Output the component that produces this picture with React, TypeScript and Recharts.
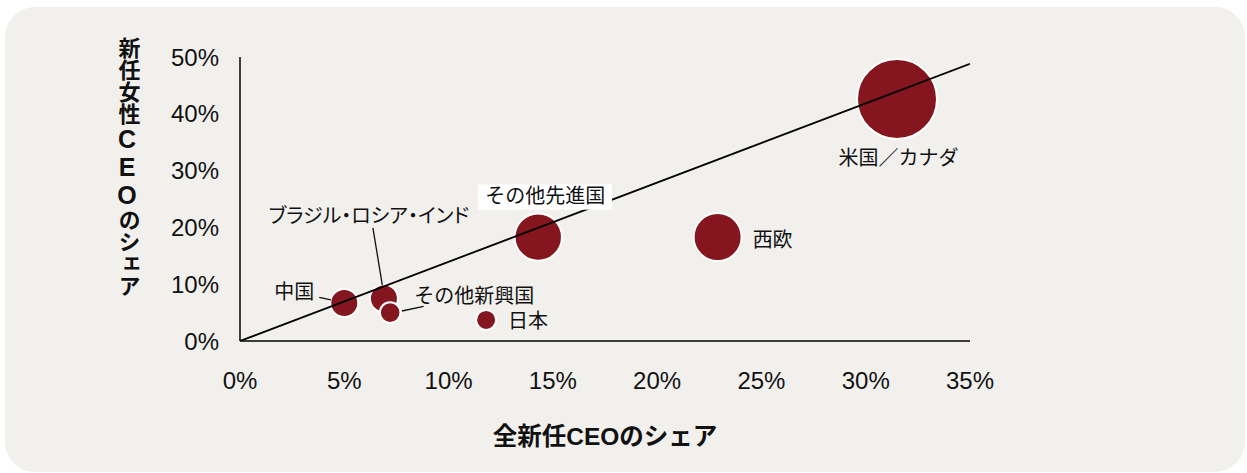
import React from 'react';
import { ScatterChart, Scatter, XAxis, YAxis, ZAxis } from 'recharts';

// ---- data ----
const regions = ['米国／カナダ', '西欧', 'その他先進国', 'ブラジル・ロシア・インド', '中国', 'その他新興国', '日本'];
const allNewCeoShare = [31.5, 22.9, 14.3, 6.9, 5.0, 7.2, 11.8];
const femaleNewCeoShare = [42.6, 18.3, 18.3, 7.5, 6.7, 5.0, 3.7];
const bubbleSize = [1600, 576, 560, 196, 196, 106, 100];
const xTicks = [0, 5, 10, 15, 20, 25, 30, 35];
const yTicks = [0, 10, 20, 30, 40, 50];
const parityLineX = [0, 35];
const parityLineY = [0, 48.8];

const bubbles = regions.map((name, i) => ({
  name,
  x: allNewCeoShare[i],
  y: femaleNewCeoShare[i],
  z: bubbleSize[i],
}));
const parityLine = parityLineX.map((x, i) => ({ x, y: parityLineY[i] }));

// ---- styles ----
const BUBBLE = '#85161f';
const INK = '#111111';
const JP = '"Noto Sans CJK JP", "Noto Sans", sans-serif';
const LAT = '"Liberation Sans", Arial, "Noto Sans CJK JP", sans-serif';

type LabelCfg = {
  dx: number;
  dy: number;
  anchor: 'start' | 'middle' | 'end';
  leader?: [number, number, number, number];
  box?: [number, number, number, number];
  palt?: boolean;
};

const labelLayout: Record<string, LabelCfg> = {
  '米国／カナダ': { dx: 1.5, dy: 59, anchor: 'middle' },
  '西欧': { dx: 35, dy: 2.5, anchor: 'start' },
  'その他先進国': { dx: 7, dy: -41, anchor: 'middle', box: [-60.3, -52.7, 134, 25.3] },
  'ブラジル・ロシア・インド': { dx: -15, dy: -83, anchor: 'middle', leader: [-11, -70.6, -1.6, -13.3], palt: true },
  '中国': { dx: -30, dy: -11.6, anchor: 'end', leader: [-25, -5.6, -13.3, -3] },
  'その他新興国': { dx: 24, dy: -17, anchor: 'start', leader: [11.7, -1.6, 33.4, -6.3] },
  '日本': { dx: 22, dy: 1, anchor: 'start' },
};

const BubbleShape = (p: any) => {
  const r = p.size ? Math.sqrt(p.size / Math.PI) : (p.width || 0) / 2;
  return <circle cx={p.cx} cy={p.cy} r={r} fill={BUBBLE} stroke="#ffffff" strokeWidth={2} />;
};

const EmptyShape = () => <g />;

const LabelShape = (p: any) => {
  const name = p.payload?.name ?? p.name;
  const cfg = labelLayout[name];
  if (!cfg) return <g />;
  const { cx, cy } = p;
  return (
    <g>
      {cfg.box && (
        <rect x={cx + cfg.box[0]} y={cy + cfg.box[1]} width={cfg.box[2]} height={cfg.box[3]} fill="#ffffff" />
      )}
      {cfg.leader && (
        <line
          x1={cx + cfg.leader[0]}
          y1={cy + cfg.leader[1]}
          x2={cx + cfg.leader[2]}
          y2={cy + cfg.leader[3]}
          stroke={INK}
          strokeWidth={1.3}
        />
      )}
      <text
        x={cx + cfg.dx}
        y={cy + cfg.dy}
        dy="0.36em"
        textAnchor={cfg.anchor}
        fontFamily={JP}
        fontSize={20}
        fill={INK}
        style={cfg.palt ? { fontFeatureSettings: '"palt"' } : undefined}
      >
        {name}
      </text>
    </g>
  );
};

const YTitle = (props: any) => {
  const vb = props.viewBox || { x: 0, y: 0, width: 0, height: 0 };
  return (
    <text
      x={vb.x + vb.width - 113}
      y={vb.y + 110}
      textAnchor="middle"
      fontFamily={LAT}
      fontWeight="bold"
      fontSize={22}
      fill={INK}
      style={{ writingMode: 'vertical-rl', textOrientation: 'upright' } as any}
    >
      新任女性<tspan fontSize={25}>CEO</tspan>のシェア
    </text>
  );
};

const XTitle = (props: any) => {
  const vb = props.viewBox || { x: 0, y: 0, width: 0, height: 0 };
  return (
    <text
      x={vb.x + vb.width / 2}
      y={vb.y + 95}
      dy="0.36em"
      textAnchor="middle"
      fontFamily={LAT}
      fontWeight="bold"
      fontSize={24.5}
      fill={INK}
    >
      全新任CEOのシェア
    </text>
  );
};

const tickStyle = { fontSize: 24, fontFamily: LAT, fill: INK };

export default function App() {
  return (
    <div style={{ position: 'absolute', left: 0, top: 0, width: 1247, height: 473, background: '#ffffff' }}>
      <div
        style={{
          position: 'absolute',
          left: 5,
          top: 7,
          width: 1240,
          height: 465,
          borderRadius: 30,
          background: '#f1f0ed',
        }}
      />
      <div style={{ position: 'absolute', left: 0, top: 0 }}>
        <ScatterChart width={1247} height={473} margin={{ top: 57, right: 277, left: 140, bottom: 72 }}>
          <XAxis
            type="number"
            dataKey="x"
            domain={[0, 35]}
            ticks={xTicks}
            tickFormatter={(v: number) => `${v}%`}
            tick={tickStyle}
            tickLine={false}
            tickSize={0}
            tickMargin={31}
            axisLine={{ stroke: '#000', strokeWidth: 1.5 }}
            height={60}
            allowDataOverflow
            label={<XTitle />}
          />
          <YAxis
            type="number"
            dataKey="y"
            domain={[0, 50]}
            ticks={yTicks}
            tickFormatter={(v: number) => `${v}%`}
            tick={tickStyle}
            tickLine={false}
            tickSize={0}
            tickMargin={21}
            axisLine={{ stroke: '#000', strokeWidth: 1.5 }}
            width={100}
            allowDataOverflow
            label={<YTitle />}
          />
          <ZAxis type="number" dataKey="z" domain={[0, 1600]} range={[0, 1600 * Math.PI]} />
          <Scatter data={bubbles} shape={BubbleShape} isAnimationActive={false} />
          <Scatter
            data={parityLine}
            line={{ stroke: '#000', strokeWidth: 1.8 }}
            lineType="joint"
            shape={EmptyShape}
            isAnimationActive={false}
          />
          <Scatter data={bubbles} shape={LabelShape} isAnimationActive={false} />
        </ScatterChart>
      </div>
    </div>
  );
}
